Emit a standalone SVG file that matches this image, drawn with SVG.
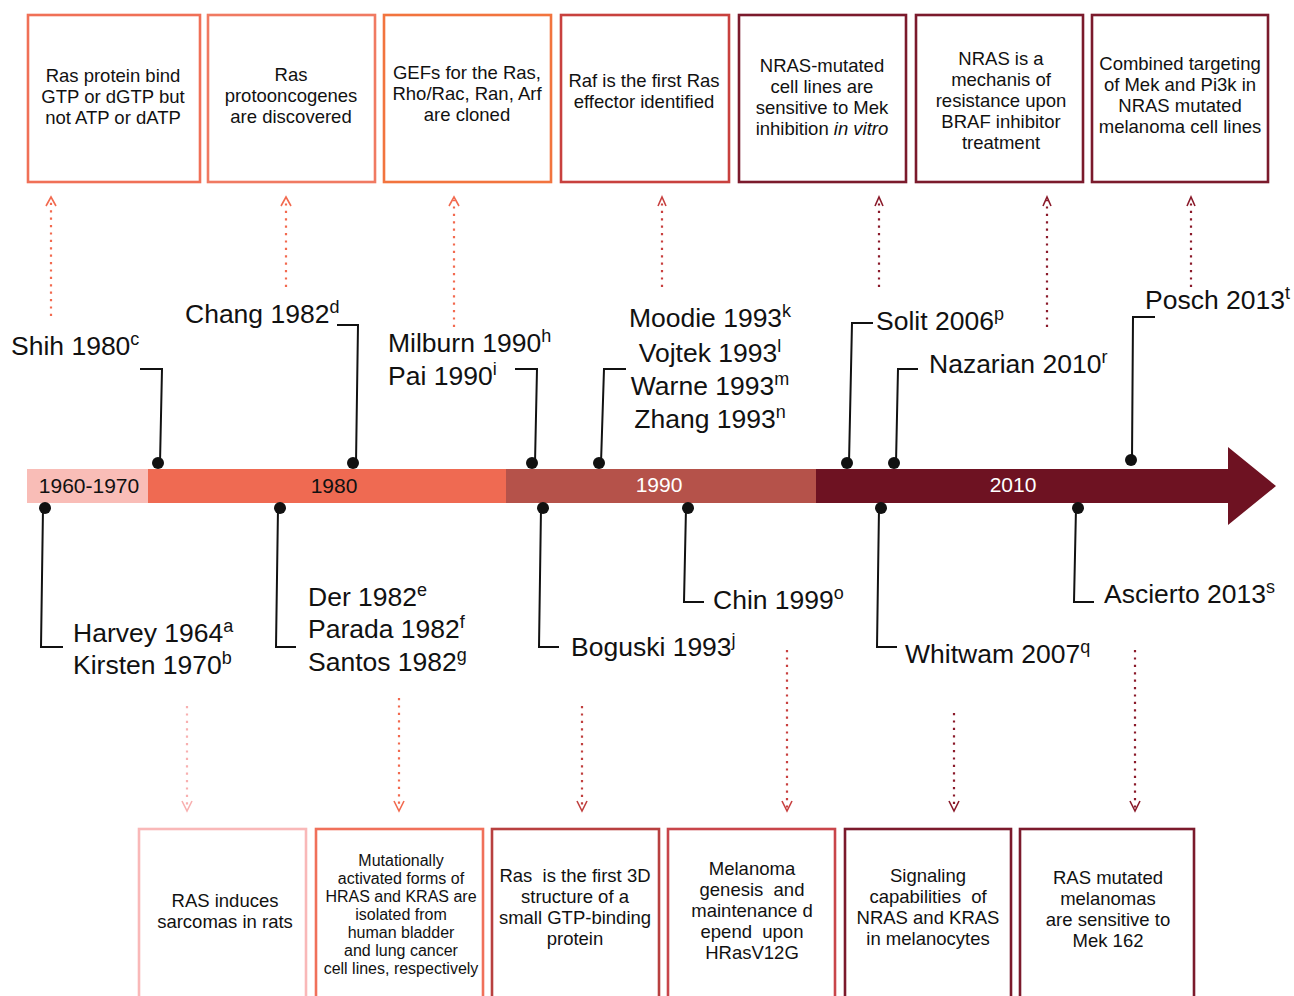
<svg xmlns="http://www.w3.org/2000/svg" width="1294" height="996" viewBox="0 0 1294 996">
<style>
text{font-family:"Liberation Sans",Arial,sans-serif;fill:#111}
.bt{font-size:18.5px;text-anchor:middle;white-space:pre}
.bs{font-size:16px;text-anchor:middle}
.lb{font-size:26.5px}
.sup{font-size:18px}
.box{fill:#fff;stroke-width:2.6}
.lead{fill:none;stroke:#111;stroke-width:2}
.dot{fill:#111}
.dash{fill:none;stroke-width:2.2;stroke-dasharray:2.2 5.2}
.head{fill:none;stroke-width:1.6}
.yr{font-size:21px;text-anchor:middle}
</style>

<g id="timeline">
<rect x="27" y="469" width="122" height="34" fill="#f9bdb7"/>
<rect x="148" y="469" width="359" height="34" fill="#ef6a52"/>
<rect x="506" y="469" width="311" height="34" fill="#b5524a"/>
<polygon points="816,469 1228,469 1228,447 1276,486 1228,525 1228,503 816,503" fill="#6e1222"/>
<text class="yr" x="89" y="493">1960-1970</text>
<text class="yr" x="334" y="493">1980</text>
<text class="yr" x="659" y="492" style="fill:#fff">1990</text>
<text class="yr" x="1013" y="492" style="fill:#fff">2010</text>
</g>

<g id="top-boxes">
<g id="t1"><rect class="box" x="28" y="15" width="172" height="167" stroke="#f07057"/>
<text class="bt" x="113" y="82">Ras protein bind</text><text class="bt" x="113" y="103">GTP or dGTP but</text><text class="bt" x="113" y="124">not ATP or dATP</text></g>
<g id="t2"><rect class="box" x="208" y="15" width="167" height="167" stroke="#f07a62"/>
<text class="bt" x="291" y="81">Ras</text><text class="bt" x="291" y="102">protooncogenes</text><text class="bt" x="291" y="123">are discovered</text></g>
<g id="t3"><rect class="box" x="384" y="15" width="167" height="167" stroke="#f2743e"/>
<text class="bt" x="467" y="79">GEFs for the Ras,</text><text class="bt" x="467" y="100">Rho/Rac, Ran, Arf</text><text class="bt" x="467" y="121">are cloned</text></g>
<g id="t4"><rect class="box" x="561" y="15" width="168" height="167" stroke="#c8413e"/>
<text class="bt" x="644" y="87">Raf is the first Ras</text><text class="bt" x="644" y="108">effector identified</text></g>
<g id="t5"><rect class="box" x="739" y="15" width="167" height="167" stroke="#7b1a2c"/>
<text class="bt" x="822" y="72">NRAS-mutated</text><text class="bt" x="822" y="93">cell lines are</text><text class="bt" x="822" y="114">sensitive to Mek</text><text class="bt" x="822" y="135">inhibition <tspan font-style="italic">in vitro</tspan></text></g>
<g id="t6"><rect class="box" x="916" y="15" width="167" height="167" stroke="#7b1a2c"/>
<text class="bt" x="1001" y="65">NRAS is a</text><text class="bt" x="1001" y="86">mechanis of</text><text class="bt" x="1001" y="107">resistance upon</text><text class="bt" x="1001" y="128">BRAF inhibitor</text><text class="bt" x="1001" y="149">treatment</text></g>
<g id="t7"><rect class="box" x="1092" y="15" width="176" height="167" stroke="#7b1a2c"/>
<text class="bt" x="1180" y="70">Combined targeting</text><text class="bt" x="1180" y="91">of Mek and Pi3k in</text><text class="bt" x="1180" y="112">NRAS mutated</text><text class="bt" x="1180" y="133">melanoma cell lines</text></g>
</g>

<g id="bottom-boxes">
<g id="b1"><rect class="box" x="139" y="829" width="167" height="180" stroke="#f9b8b8"/>
<text class="bt" x="225" y="907">RAS induces</text><text class="bt" x="225" y="928">sarcomas in rats</text></g>
<g id="b2"><rect class="box" x="316" y="829" width="167" height="180" stroke="#f0705a"/>
<text class="bs" x="401" y="866">Mutationally</text><text class="bs" x="401" y="884">activated forms of</text><text class="bs" x="401" y="902">HRAS and KRAS are</text><text class="bs" x="401" y="920">isolated from</text><text class="bs" x="401" y="938">human bladder</text><text class="bs" x="401" y="956">and lung cancer</text><text class="bs" x="401" y="974">cell lines, respectively</text></g>
<g id="b3"><rect class="box" x="492" y="829" width="167" height="180" stroke="#b8403f"/>
<text class="bt" x="575" y="882">Ras  is the first 3D</text><text class="bt" x="575" y="903">structure of a</text><text class="bt" x="575" y="924">small GTP-binding</text><text class="bt" x="575" y="945">protein</text></g>
<g id="b4"><rect class="box" x="668" y="829" width="167" height="180" stroke="#c8454a"/>
<text class="bt" x="752" y="875">Melanoma</text><text class="bt" x="752" y="896">genesis  and</text><text class="bt" x="752" y="917">maintenance d</text><text class="bt" x="752" y="938">epend  upon</text><text class="bt" x="752" y="959">HRasV12G</text></g>
<g id="b5"><rect class="box" x="845" y="829" width="166" height="180" stroke="#7b1a2c"/>
<text class="bt" x="928" y="882">Signaling</text><text class="bt" x="928" y="903">capabilities  of</text><text class="bt" x="928" y="924">NRAS and KRAS</text><text class="bt" x="928" y="945">in melanocytes</text></g>
<g id="b6"><rect class="box" x="1020" y="829" width="174" height="180" stroke="#7b1a2c"/>
<text class="bt" x="1108" y="884">RAS mutated</text><text class="bt" x="1108" y="905">melanomas</text><text class="bt" x="1108" y="926">are sensitive to</text><text class="bt" x="1108" y="947">Mek 162</text></g>
</g>

<g id="connectors">
<g stroke="#f26a4f"><line class="dash" x1="51" y1="316" x2="51" y2="200"/><polyline class="head" points="46,206 51,197 56,206"/></g>
<g stroke="#f26a4f"><line class="dash" x1="286" y1="287" x2="286" y2="200"/><polyline class="head" points="281,206 286,197 291,206"/></g>
<g stroke="#f26a4f"><line class="dash" x1="454" y1="327" x2="454" y2="200"/><polyline class="head" points="449,206 454,197 459,206"/></g>
<g stroke="#c8403f"><line class="dash" x1="662" y1="287" x2="662" y2="200"/><polyline class="head" points="658,206 662,197 666,206"/></g>
<g stroke="#8a1a2a"><line class="dash" x1="879" y1="287" x2="879" y2="200"/><polyline class="head" points="875,206 879,197 883,206"/></g>
<g stroke="#8a1a2a"><line class="dash" x1="1047" y1="327" x2="1047" y2="200"/><polyline class="head" points="1043,206 1047,197 1051,206"/></g>
<g stroke="#8a1a2a"><line class="dash" x1="1191" y1="287" x2="1191" y2="200"/><polyline class="head" points="1187,206 1191,197 1195,206"/></g>
<g stroke="#f8b0b0"><line class="dash" x1="187" y1="706" x2="187" y2="808"/><polyline class="head" points="182,801 187,811 192,801"/></g>
<g stroke="#f26a4f"><line class="dash" x1="399" y1="698" x2="399" y2="808"/><polyline class="head" points="394,801 399,811 404,801"/></g>
<g stroke="#c0403f"><line class="dash" x1="582" y1="706" x2="582" y2="808"/><polyline class="head" points="577,801 582,811 587,801"/></g>
<g stroke="#c8403f"><line class="dash" x1="787" y1="650" x2="787" y2="808"/><polyline class="head" points="782,801 787,811 792,801"/></g>
<g stroke="#8a1a2a"><line class="dash" x1="954" y1="713" x2="954" y2="808"/><polyline class="head" points="949,801 954,811 959,801"/></g>
<g stroke="#8a1a2a"><line class="dash" x1="1135" y1="650" x2="1135" y2="808"/><polyline class="head" points="1130,801 1135,811 1140,801"/></g>
<polyline class="lead" points="140,369 162,369 160,463"/><circle class="dot" cx="158" cy="463" r="6"/>
<polyline class="lead" points="337,325 358,325 356,463"/><circle class="dot" cx="353" cy="463" r="6"/>
<polyline class="lead" points="515,369 537,369 535,463"/><circle class="dot" cx="532" cy="463" r="6"/>
<polyline class="lead" points="626,369 604,369 601,463"/><circle class="dot" cx="599" cy="463" r="6"/>
<polyline class="lead" points="873,323 852,323 849,463"/><circle class="dot" cx="847" cy="463" r="6"/>
<polyline class="lead" points="918,369 898,369 896,463"/><circle class="dot" cx="894" cy="463" r="6"/>
<polyline class="lead" points="1155,317 1133,317 1132,460"/><circle class="dot" cx="1131" cy="460" r="6"/>
<circle class="dot" cx="45" cy="508" r="6"/><polyline class="lead" points="43,508 41,647 63,647"/>
<circle class="dot" cx="280" cy="508" r="6"/><polyline class="lead" points="278,508 276,647 296,647"/>
<circle class="dot" cx="543" cy="508" r="6"/><polyline class="lead" points="541,508 539,647 559,647"/>
<circle class="dot" cx="688" cy="508" r="6"/><polyline class="lead" points="686,508 684,602 704,602"/>
<circle class="dot" cx="881" cy="508" r="6"/><polyline class="lead" points="879,508 877,647 897,647"/>
<circle class="dot" cx="1078" cy="508" r="6"/><polyline class="lead" points="1076,508 1074,602 1094,602"/>
</g>

<g id="labels">
<text class="lb" x="11" y="355">Shih 1980<tspan class="sup" dy="-10">c</tspan></text>
<text class="lb" x="185" y="323">Chang 1982<tspan class="sup" dy="-10">d</tspan></text>
<text class="lb" x="388" y="352">Milburn 1990<tspan class="sup" dy="-10">h</tspan></text>
<text class="lb" x="388" y="385">Pai 1990<tspan class="sup" dy="-10">i</tspan></text>
<text class="lb" x="710" y="327" text-anchor="middle">Moodie 1993<tspan class="sup" dy="-10">k</tspan></text>
<text class="lb" x="710" y="362" text-anchor="middle">Vojtek 1993<tspan class="sup" dy="-10">l</tspan></text>
<text class="lb" x="710" y="395" text-anchor="middle">Warne 1993<tspan class="sup" dy="-10">m</tspan></text>
<text class="lb" x="710" y="428" text-anchor="middle">Zhang 1993<tspan class="sup" dy="-10">n</tspan></text>
<text class="lb" x="876" y="330">Solit 2006<tspan class="sup" dy="-10">p</tspan></text>
<text class="lb" x="929" y="373">Nazarian 2010<tspan class="sup" dy="-10">r</tspan></text>
<text class="lb" x="1145" y="309">Posch 2013<tspan class="sup" dy="-10">t</tspan></text>
<text class="lb" x="73" y="642">Harvey 1964<tspan class="sup" dy="-10">a</tspan></text>
<text class="lb" x="73" y="674">Kirsten 1970<tspan class="sup" dy="-10">b</tspan></text>
<text class="lb" x="308" y="606">Der 1982<tspan class="sup" dy="-10">e</tspan></text>
<text class="lb" x="308" y="638">Parada 1982<tspan class="sup" dy="-10">f</tspan></text>
<text class="lb" x="308" y="671">Santos 1982<tspan class="sup" dy="-10">g</tspan></text>
<text class="lb" x="571" y="656">Boguski 1993<tspan class="sup" dy="-10">j</tspan></text>
<text class="lb" x="713" y="609">Chin 1999<tspan class="sup" dy="-10">o</tspan></text>
<text class="lb" x="905" y="663">Whitwam 2007<tspan class="sup" dy="-10">q</tspan></text>
<text class="lb" x="1104" y="603">Ascierto 2013<tspan class="sup" dy="-10">s</tspan></text>
</g>
</svg>
